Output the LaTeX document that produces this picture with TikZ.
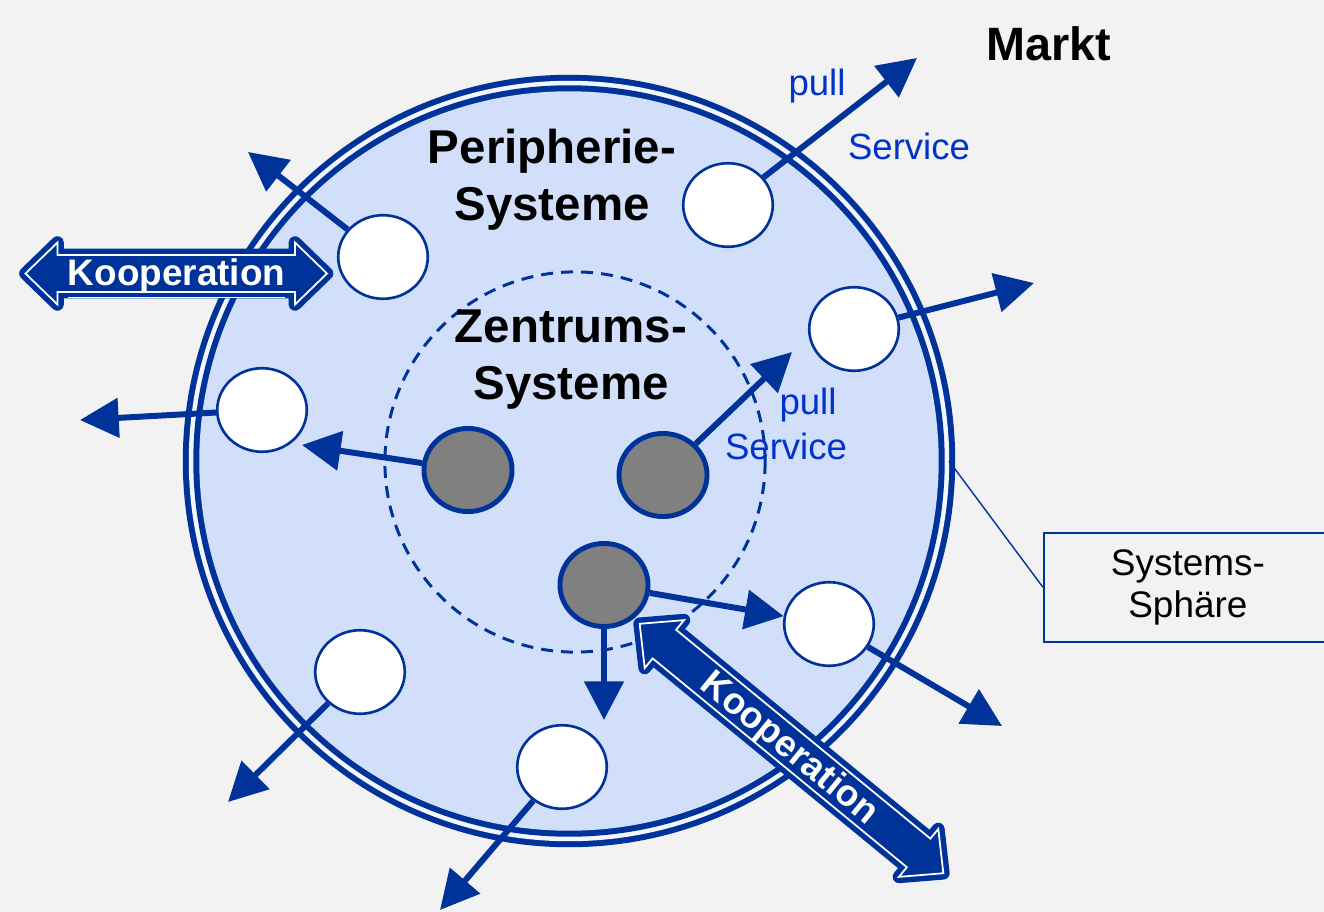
\documentclass[tikz,border=0pt]{standalone}
\usepackage{fontspec}
\setmainfont{Liberation Sans}
\usetikzlibrary{shapes.geometric,arrows.meta}
\definecolor{dblue}{HTML}{003399}
\definecolor{tblue}{HTML}{0033CC}
\definecolor{lblue}{HTML}{D2DFFA}
\definecolor{gapc}{HTML}{F2F6FE}
\definecolor{bgc}{HTML}{F2F2F2}
\definecolor{gnode}{HTML}{808080}
\begin{document}
\begin{tikzpicture}[x=0.01cm,y=-0.01cm,
  wnode/.style={ellipse,draw=dblue,line width=0.75pt,fill=white,minimum width=0.895cm,minimum height=0.835cm,inner sep=0pt},
  gnodes/.style={ellipse,draw=dblue,line width=1.4pt,fill=gnode,minimum width=0.88cm,minimum height=0.83cm,inner sep=0pt},
  arr/.style={draw=dblue,line width=1.7pt,-{Triangle[length=11pt,width=11pt]}},
  koopbody/.style={fill=dblue,draw=dblue,line width=3.6pt,line join=round},
  koopline/.style={draw=white,line width=0.5pt,line join=miter},
  kooptxt/.style={text=white,font=\fontsize{10.5}{12}\selectfont\bfseries,inner sep=0pt},
  bigtxt/.style={font=\fontsize{13.5}{16.2}\selectfont\bfseries,align=center,inner sep=0pt},
  bluetxt/.style={text=tblue,font=\fontsize{10.4}{12}\selectfont,inner sep=0pt},
]
\useasboundingbox[fill=bgc] (0,0) rectangle (1324,912);
% system sphere
\fill[dblue] (569,461) circle[radius=3.86cm];
\fill[gapc] (569,461) circle[radius=3.80cm];
\fill[dblue] (569,461) circle[radius=3.755cm];
\fill[lblue] (569,461) circle[radius=3.695cm];
% centre sphere
\draw[dblue,line width=0.85pt,dash pattern=on 3.4pt off 2.3pt] (575,462) circle[radius=1.90cm];

% nodes
\node[wnode] (p1) at (383,257) {};
\node[wnode] (p2) at (728,205) {};
\node[wnode] (p3) at (854,329) {};
\node[wnode] (p4) at (262,410) {};
\node[wnode] (p5) at (829,624) {};
\node[wnode] (p6) at (360,672) {};
\node[wnode] (p7) at (562,767) {};
\node[gnodes] (g1) at (468,470) {};
\node[gnodes] (g2) at (663,475) {};
\node[gnodes] (g3) at (604,585) {};

% arrow ends
\coordinate (t1) at (248,152);
\coordinate (t2) at (917,58);
\coordinate (t3) at (1034,283);
\coordinate (t4) at (80,420);
\coordinate (t5) at (1002,726);
\coordinate (t6) at (228,802);
\coordinate (t7) at (440,910);
\coordinate (u1) at (302,445);
\coordinate (u2) at (792,352);
\coordinate (u3) at (604,720);

\draw[arr] (p1) -- (t1);
\draw[arr] (p2) -- (t2);
\draw[arr] (p3) -- (t3);
\draw[arr] (p4) -- (t4);
\draw[arr] (p5) -- (t5);
\draw[arr] (p6) -- (t6);
\draw[arr] (p7) -- (t7);
\draw[arr] (g1) -- (u1);
\draw[arr] (g2) -- (u2);
\draw[arr] (g3) -- (p5);
\draw[arr] (g3) -- (u3);

% Kooperation arrows
\begin{scope}[shift={(176.25,273.5)}]
  \path[koopbody] (-150.75,0) -- (-118.75,-31) -- (-118.75,-18.5) -- (118.75,-18.5) -- (118.75,-31) -- (150.75,0) -- (118.75,31) -- (118.75,18.5) -- (-118.75,18.5) -- (-118.75,31) -- cycle;
  \path[koopline] (-150.75,0) -- (-118.75,-31) -- (-118.75,-18.5) -- (118.75,-18.5) -- (118.75,-31) -- (150.75,0) -- (118.75,31) -- (118.75,18.5) -- (-118.75,18.5) -- (-118.75,31) -- cycle;
\end{scope}
\node[kooptxt,anchor=base] (k1) at (176.5,285) {\underline{Kooperation}};
\begin{scope}[shift={(791.5,748.5)},rotate=-39.4]
  \path[koopbody] (-196.5,0) -- (-164.5,-31) -- (-164.5,-18.5) -- (164.5,-18.5) -- (164.5,-31) -- (196.5,0) -- (164.5,31) -- (164.5,18.5) -- (-164.5,18.5) -- (-164.5,31) -- cycle;
  \path[koopline] (-196.5,0) -- (-164.5,-31) -- (-164.5,-18.5) -- (164.5,-18.5) -- (164.5,-31) -- (196.5,0) -- (164.5,31) -- (164.5,18.5) -- (-164.5,18.5) -- (-164.5,31) -- cycle;
\end{scope}
\node[kooptxt,rotate=-39.4] (k2) at (789,749) {Kooperation};

% texts
\node[bigtxt] (peri) at (552,180) {Peripherie-\\Systeme};
\node[bigtxt] (zent) at (571,360) {Zentrums-\\Systeme};
\node[bigtxt,font=\fontsize{13.3}{16}\selectfont\bfseries] (markt) at (1049,44) {Markt};
\node[bluetxt] (pull1) at (817,86) {pull};
\node[bluetxt] (serv1) at (909,146) {Service};
\node[bluetxt] (pull2) at (808,405) {pull};
\node[bluetxt] (serv2) at (786,446) {Service};

% Systems-Sphaere label
\node[draw=dblue,line width=0.45pt,anchor=north west,minimum width=2.88cm,minimum height=1.09cm,align=center,inner sep=0pt,font=\fontsize{10.5}{12}\selectfont] (box) at (1043,532) {Systems-\\Sphäre};
\coordinate (sph) at (949,461);
\draw[dblue,line width=0.4pt] (sph) -- (box.west);
\end{tikzpicture}
\end{document}
